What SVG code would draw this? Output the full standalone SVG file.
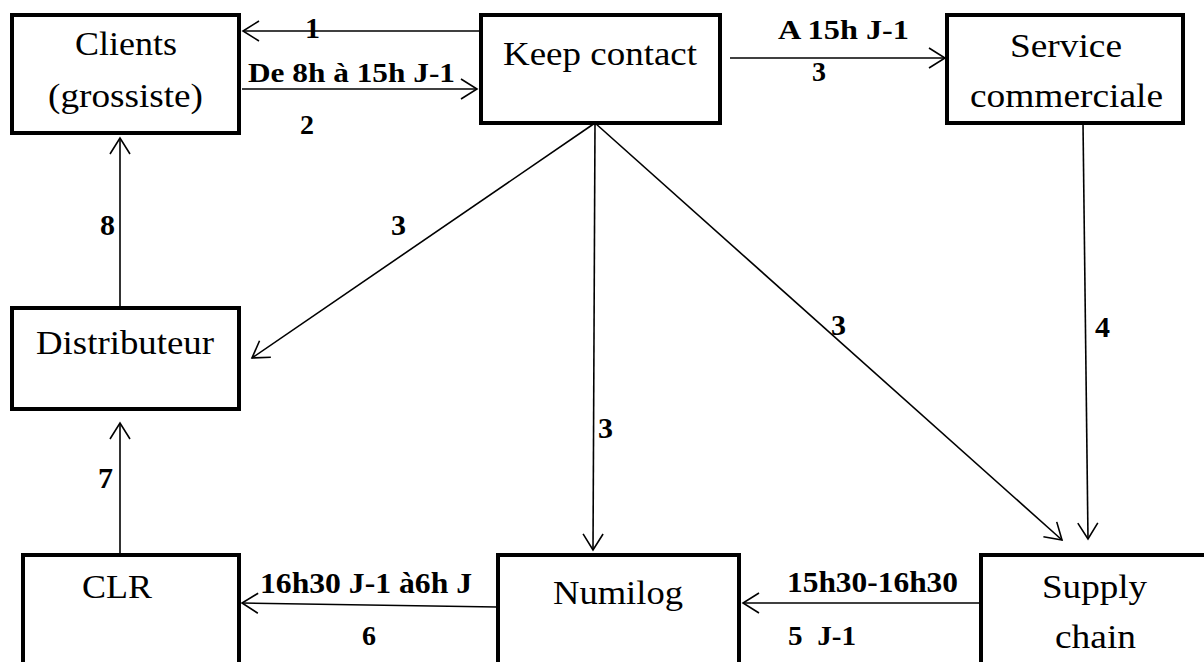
<svg xmlns="http://www.w3.org/2000/svg" width="1204" height="662" viewBox="0 0 1204 662">
<style>
.box{fill:#fff;stroke:#000;stroke-width:4}
.lbl{font-family:"Liberation Serif","Times New Roman",serif;font-size:33px;fill:#000}
.b{font-family:"Liberation Serif","Times New Roman",serif;font-size:28px;font-weight:bold;fill:#000}
.d{font-size:30px}
.con{fill:none;stroke:#000;stroke-width:1.6}
</style>
<defs>
<marker id="ah" markerUnits="userSpaceOnUse" markerWidth="20" markerHeight="24" refX="17" refY="11" orient="auto" viewBox="0 0 20 22">
<path d="M1 1 L17 11 L1 21" fill="none" stroke="#000" stroke-width="1.6"/>
</marker>
</defs>
<rect width="1204" height="662" fill="#fff"/>
<g id="connectors">
<line class="con" x1="479" y1="31" x2="243" y2="31" marker-end="url(#ah)"/>
<line class="con" x1="242" y1="89" x2="477" y2="89" marker-end="url(#ah)"/>
<line class="con" x1="730" y1="58" x2="945" y2="58" marker-end="url(#ah)"/>
<line class="con" x1="595" y1="123" x2="252" y2="358" marker-end="url(#ah)"/>
<line class="con" x1="595" y1="123" x2="593" y2="550" marker-end="url(#ah)"/>
<line class="con" x1="595" y1="123" x2="1062" y2="540" marker-end="url(#ah)"/>
<line class="con" x1="1083" y1="123" x2="1088" y2="539" marker-end="url(#ah)"/>
<line class="con" x1="979" y1="603" x2="743" y2="603" marker-end="url(#ah)"/>
<line class="con" x1="497" y1="607" x2="242" y2="603" marker-end="url(#ah)"/>
<line class="con" x1="120" y1="553" x2="120" y2="423" marker-end="url(#ah)"/>
<line class="con" x1="120" y1="306" x2="120" y2="138" marker-end="url(#ah)"/>
</g>
<g id="labels">
<text class="b d" x="305" y="38">1</text>
<text class="b" x="248" y="82" textLength="207" lengthAdjust="spacingAndGlyphs">De 8h à 15h J-1</text>
<text class="b" x="300" y="134">2</text>
<text class="b" x="778" y="39" textLength="131" lengthAdjust="spacingAndGlyphs">A 15h J-1</text>
<text class="b" x="812" y="81">3</text>
<text class="b d" x="391" y="235">3</text>
<text class="b d" x="100" y="235">8</text>
<text class="b d" x="831" y="335">3</text>
<text class="b d" x="1095" y="337">4</text>
<text class="b d" x="598" y="438">3</text>
<text class="b d" x="98" y="488">7</text>
<text class="b d" x="260" y="593" textLength="212" lengthAdjust="spacingAndGlyphs">16h30 J-1 à6h J</text>
<text class="b" x="362" y="645">6</text>
<text class="b d" x="787" y="592" textLength="171" lengthAdjust="spacingAndGlyphs">15h30-16h30</text>
<text class="b" x="788" y="645" textLength="68" lengthAdjust="spacingAndGlyphs">5&#160;&#160;J-1</text>
</g>
<g id="clients">
<rect class="box" x="12" y="15" width="227" height="118"/>
<text class="lbl" x="75" y="55" textLength="102" lengthAdjust="spacingAndGlyphs">Clients</text>
<text class="lbl" x="48" y="107" textLength="155" lengthAdjust="spacingAndGlyphs">(grossiste)</text>
</g>
<g id="keep-contact">
<rect class="box" x="481" y="15" width="239" height="108"/>
<text class="lbl" x="503" y="65" textLength="194" lengthAdjust="spacingAndGlyphs">Keep contact</text>
</g>
<g id="service-commerciale">
<rect class="box" x="947" y="15" width="236" height="108"/>
<text class="lbl" x="1010" y="57" textLength="112" lengthAdjust="spacingAndGlyphs">Service</text>
<text class="lbl" x="970" y="107" textLength="193" lengthAdjust="spacingAndGlyphs">commerciale</text>
</g>
<g id="distributeur">
<rect class="box" x="12" y="308" width="227" height="101"/>
<text class="lbl" x="36" y="354" textLength="178" lengthAdjust="spacingAndGlyphs">Distributeur</text>
</g>
<g id="clr">
<rect class="box" x="23" y="555" width="216" height="200"/>
<text class="lbl" x="82" y="598" textLength="70" lengthAdjust="spacingAndGlyphs">CLR</text>
</g>
<g id="numilog">
<rect class="box" x="498" y="555" width="241" height="200"/>
<text class="lbl" x="553" y="604" textLength="130" lengthAdjust="spacingAndGlyphs">Numilog</text>
</g>
<g id="supply-chain">
<rect class="box" x="981" y="555" width="260" height="200"/>
<text class="lbl" x="1042" y="598" textLength="105" lengthAdjust="spacingAndGlyphs">Supply</text>
<text class="lbl" x="1055" y="648" textLength="81" lengthAdjust="spacingAndGlyphs">chain</text>
</g>
</svg>
